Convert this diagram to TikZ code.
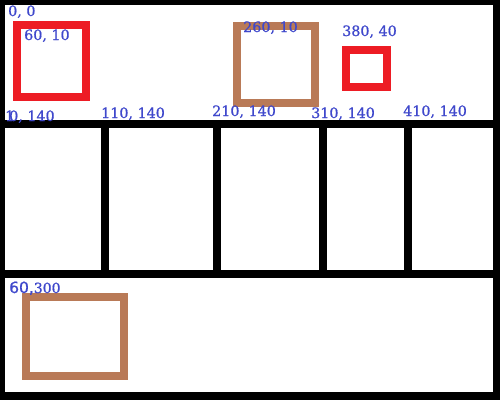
\documentclass[tikz,border=0pt]{standalone}
\usepackage{fontspec}
\setmainfont[FakeBold=0.8,BoldFont={DejaVu Serif},BoldFeatures={FakeBold=0.8}]{DejaVu Serif}
\newfontfamily\labserif[FakeBold=0.8]{DejaVu Serif}
\newfontfamily\labsans[FakeBold=0.8]{DejaVu Sans}
\definecolor{pred}{RGB}{237,28,36}
\definecolor{pbrown}{RGB}{185,122,87}
\definecolor{pblue}{RGB}{63,72,204}
\tikzset{
  wall/.style={fill=black},
  cell/.style={fill=white},
  redsq/.style={draw=pred,line width=8pt},
  brownsq/.style={draw=pbrown,line width=8pt},
  lab/.style={text=pblue,inner sep=0pt,anchor=base west,font=\labserif\fontsize{14.3}{16}\selectfont}
}
\begin{document}
\begin{tikzpicture}[x=1pt,y=-1pt]
\useasboundingbox (0,0) rectangle (500,400);
% frame and walls
\fill[wall] (0,0) rectangle (500,400);
\fill[cell] (5,5) rectangle (493,120);
\fill[cell] (5,128) rectangle (101,270);
\fill[cell] (109,128) rectangle (213,270);
\fill[cell] (221,128) rectangle (319,270);
\fill[cell] (327,128) rectangle (404,270);
\fill[cell] (412,128) rectangle (493,270);
\fill[cell] (5,278) rectangle (493,392);
% squares
\draw[redsq] (17,25) rectangle (86,97);
\draw[brownsq] (237,26) rectangle (315,103);
\draw[redsq] (346,50) rectangle (387,87);
\draw[brownsq] (26,297) rectangle (124,376);
% labels
\node[lab] (l00) at (8,16) {0, 0};
\node[lab] (l6010) at (24,40) {60, 10};
\node[lab] (l26010) at (243,32) {260, 10};
\node[lab] (l38040) at (342,36) {380, 40};
\node[lab] (l10140) at (5,121) {\rlap{1}\hspace{4pt}0, 140};
\node[lab] (l110140) at (101,118) {110, 140};
\node[lab] (l210140) at (212,116) {210, 140};
\node[lab] (l310140) at (311,118) {310, 140};
\node[lab] (l410140) at (403,116) {410, 140};
\node[lab] (l60300) at (9,293) {{\labsans\fontsize{15.5}{16}\selectfont 60,}{\labserif\fontsize{14}{16}\selectfont 300}};
\end{tikzpicture}
\end{document}
